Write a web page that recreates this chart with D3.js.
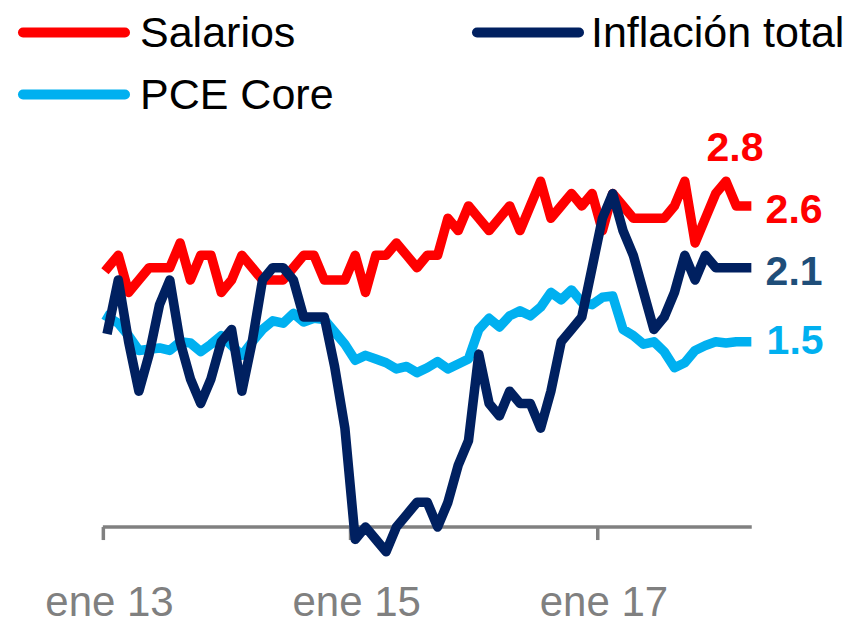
<!DOCTYPE html>
<html>
<head>
<meta charset="utf-8">
<script src="https://cdn.jsdelivr.net/npm/d3@7"></script>
<style>
  body { margin: 0; background: #fff; }
  svg { display: block; font-family: "Liberation Sans", Arial, sans-serif; }
</style>
</head>
<body>
<svg id="chart" width="853" height="626"></svg>
<script>
// months ene 13 .. mar 18
const meses = ["ene","feb","mar","abr","may","jun","jul","ago","sep","oct","nov","dic"];
const months = d3.range(63).map(i => meses[i % 12] + " " + (13 + Math.floor(i / 12)));

const salarios = [
  2.1, 2.2, 1.9, 2.0, 2.1, 2.1, 2.1, 2.3, 2.0, 2.2, 2.2, 1.9,
  2.0, 2.2, 2.1, 2.0, 2.0, 2.0, 2.1, 2.2, 2.2, 2.0, 2.0, 2.0,
  2.2, 1.9, 2.2, 2.2, 2.3, 2.2, 2.1, 2.2, 2.2, 2.5, 2.4, 2.6,
  2.5, 2.4, 2.5, 2.6, 2.4, 2.6, 2.8, 2.5, 2.6, 2.7, 2.6, 2.7,
  2.4, 2.7, 2.6, 2.5, 2.5, 2.5, 2.5, 2.6, 2.8, 2.3, 2.5, 2.7,
  2.8, 2.6, 2.6
];
const inflacion = [
  1.6, 2.0, 1.5, 1.1, 1.4, 1.8, 2.0, 1.5, 1.2, 1.0, 1.2, 1.5,
  1.6, 1.1, 1.5, 2.0, 2.1, 2.1, 2.0, 1.7, 1.7, 1.7, 1.3, 0.8,
  -0.1, 0.0, -0.1, -0.2, 0.0, 0.1, 0.2, 0.2, 0.0, 0.2, 0.5, 0.7,
  1.4, 1.0, 0.9, 1.1, 1.0, 1.0, 0.8, 1.1, 1.5, 1.6, 1.7, 2.1,
  2.5, 2.7, 2.4, 2.2, 1.9, 1.6, 1.7, 1.9, 2.2, 2.0, 2.2, 2.1,
  2.1, 2.1, 2.1
];
const pceCore = [
  1.70, 1.65, 1.55, 1.43, 1.44, 1.45, 1.43, 1.50, 1.49, 1.42, 1.48, 1.55,
  1.47, 1.39, 1.50, 1.60, 1.67, 1.65, 1.73, 1.66, 1.69, 1.68, 1.58, 1.48,
  1.35, 1.39, 1.36, 1.33, 1.28, 1.30, 1.25, 1.29, 1.34, 1.28, 1.32, 1.36,
  1.60, 1.69, 1.62, 1.71, 1.75, 1.71, 1.78, 1.90, 1.84, 1.92, 1.82, 1.80,
  1.86, 1.87, 1.60, 1.55, 1.48, 1.50, 1.42, 1.29, 1.33, 1.43, 1.47, 1.50,
  1.49, 1.50, 1.50
];
const tickLabels = ["ene 13", "ene 15", "ene 17"];

const series = [
  { name: "PCE Core", values: pceCore, color: "#00b0f0" },
  { name: "Salarios", values: salarios, color: "#ff0000" },
  { name: "Inflación total", values: inflacion, color: "#002060" }
];

const svg = d3.select("#chart");

const x = d3.scaleLinear().domain([0, months.length - 1]).range([108, 746.6]);
const y = d3.scaleLinear().domain([-0.5, 3]).range([588.8, 156.5]);
const step = x(1) - x(0);

// X axis (ticks between categories like the original)
const axis = d3.axisBottom(x)
  .tickValues(tickLabels.map(t => months.indexOf(t) - 0.5))
  .tickSize(13)
  .tickSizeOuter(0)
  .tickFormat((d, i) => tickLabels[i]);

const gx = svg.append("g")
  .attr("transform", "translate(0," + y(0) + ")")
  .call(axis);
gx.select(".domain").remove();
gx.append("line")
  .attr("x1", x(-0.5))
  .attr("x2", x(months.length - 0.5))
  .attr("stroke", "#808080")
  .attr("stroke-width", 3.5);
gx.selectAll(".tick line")
  .attr("stroke", "#808080")
  .attr("stroke-width", 3.5);
gx.selectAll(".tick text")
  .attr("dy", null)
  .attr("y", 89)
  .attr("dx", step / 2 + 1)
  .attr("fill", "#808080")
  .style("font-size", "42px")
  .style("font-family", "'Liberation Sans', Arial, sans-serif");

// lines
const line = d3.line()
  .x((d, i) => x(i))
  .y(d => y(d));

svg.selectAll(".serie")
  .data(series)
  .enter()
  .append("path")
  .attr("class", "serie")
  .attr("d", d => line(d.values))
  .attr("fill", "none")
  .attr("stroke", d => d.color)
  .attr("stroke-width", 9.5)
  .attr("stroke-linejoin", "round")
  .attr("stroke-linecap", "square");

// end labels
const last = months.length - 1;
const endLabels = [
  { text: "2.8", i: 60, v: salarios[60], color: "#ff0000", dx: 9, dy: -20, anchor: "middle" },
  { text: "2.6", i: last, v: salarios[last], color: "#ff0000", dx: 19, dy: 17, anchor: "start" },
  { text: "2.1", i: last, v: inflacion[last], color: "#1f4e79", dx: 19, dy: 17, anchor: "start" },
  { text: "1.5", i: last, v: pceCore[last], color: "#00b0f0", dx: 20, dy: 12, anchor: "start" }
];
svg.selectAll(".endlabel")
  .data(endLabels)
  .enter()
  .append("text")
  .attr("class", "endlabel")
  .attr("x", d => x(d.i) + d.dx)
  .attr("y", d => y(d.v) + d.dy)
  .attr("text-anchor", d => d.anchor)
  .attr("fill", d => d.color)
  .attr("font-weight", "bold")
  .style("font-size", "41px")
  .text(d => d.text);

// legend
const legend = [
  { name: "Salarios", color: "#ff0000", lx: 23, ly: 32.5 },
  { name: "Inflación total", color: "#002060", lx: 477, ly: 32.5 },
  { name: "PCE Core", color: "#00b0f0", lx: 23, ly: 94.5 }
];
const lg = svg.selectAll(".legend")
  .data(legend)
  .enter()
  .append("g")
  .attr("class", "legend")
  .attr("transform", d => "translate(" + d.lx + "," + d.ly + ")");
lg.append("line")
  .attr("x1", 0)
  .attr("x2", 102)
  .attr("stroke", d => d.color)
  .attr("stroke-width", 10)
  .attr("stroke-linecap", "round");
lg.append("text")
  .attr("x", d => d.name === "Inflación total" ? 114 : 117)
  .attr("y", 14)
  .attr("fill", "#000")
  .style("font-size", "43px")
  .text(d => d.name);
</script>
</body>
</html>
